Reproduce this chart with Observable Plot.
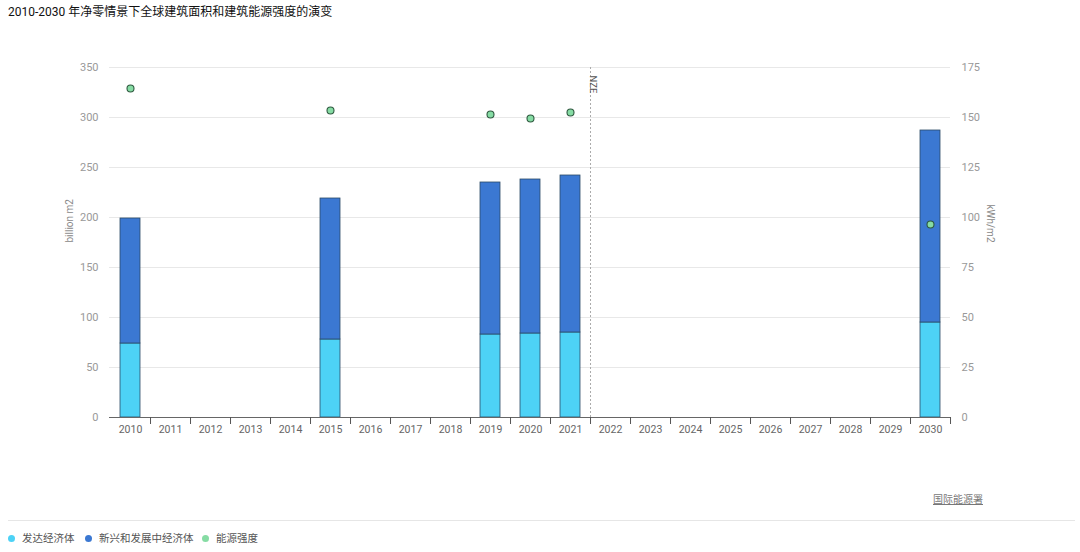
<!DOCTYPE html>
<html><head><meta charset="utf-8">
<script src="https://cdn.jsdelivr.net/npm/d3@7"></script>
<script src="https://cdn.jsdelivr.net/npm/@observablehq/plot@0.6"></script>
<style>
body{margin:0;background:#fff;font-family:Roboto,"Noto Sans CJK SC",sans-serif;width:1080px;height:552px;overflow:hidden;}
#title{height:24px;line-height:24px;padding-left:8px;font-size:12px;font-weight:400;color:#111;font-family:Roboto,"Noto Sans CJK SC",sans-serif;}
#source{height:20px;line-height:20px;text-align:right;padding-right:97px;font-size:10px;color:#777;}
#source span{text-decoration:underline;}
#sep{margin:10px 5px 0 8px;border-top:1px solid #e6e6e6;height:0;}
#legend{height:36px;line-height:36px;font-size:10.5px;color:#555;position:relative;}
.li{position:absolute;top:0;}
.dot{display:inline-block;width:7px;height:7px;border-radius:50%;vertical-align:middle;margin-right:7px;position:relative;top:-1px;}
</style></head>
<body>
<div id="title">2010-2030 年净零情景下全球建筑面积和建筑能源强度的演变</div>
<div id="chart"></div>
<div id="source"><span>国际能源署</span></div>
<div id="sep"></div>
<div id="legend"></div>
<script>
const years = ["2010","2011","2012","2013","2014","2015","2016","2017","2018","2019","2020","2021","2022","2023","2024","2025","2026","2027","2028","2029","2030"];
const dataYears = ["2010","2015","2019","2020","2021","2030"];
const developed = [74, 78, 83, 84, 85, 95];
const emerging = [125, 141, 152, 154, 157, 192];
const intensity = [164.5, 153.5, 151.5, 149.5, 152.5, 96.5];
const seriesNames = ["发达经济体", "新兴和发展中经济体", "能源强度"];
const seriesColors = ["#4dd2f6", "#3b78d2", "#86dca4"];
const leftTicks = [0, 50, 100, 150, 200, 250, 300, 350];

const rows = [];
dataYears.forEach((y, i) => {
  rows.push({year: y, series: seriesNames[0], value: developed[i]});
  rows.push({year: y, series: seriesNames[1], value: emerging[i]});
});
const pts = dataYears.map((y, i) => ({year: y, v: intensity[i]}));

const W = 1080, ML = 109, MR = 130;
const step = (W - ML - MR) / years.length;

const chart = Plot.plot({
  width: W, height: 466,
  marginLeft: ML, marginRight: MR, marginTop: 43, marginBottom: 73,
  style: {fontFamily: "Roboto, 'Noto Sans CJK SC', sans-serif", background: "#fff"},
  x: {domain: years, paddingInner: 0.5, paddingOuter: 0.25, label: null},
  y: {domain: [0, 350], label: null},
  color: {domain: seriesNames.slice(0, 2), range: seriesColors.slice(0, 2)},
  marks: [
    Plot.gridY(leftTicks, {stroke: "#e8e8e8", strokeOpacity: 1}),
    Plot.axisY(leftTicks, {anchor: "left", tickSize: 0, tickPadding: 11, fontSize: 11, color: "#999", label: null}),
    Plot.axisY(leftTicks, {anchor: "right", tickSize: 0, tickPadding: 11, fontSize: 11, color: "#999", label: null, tickFormat: d => d / 2}),
    Plot.text(["billion m2"], {frameAnchor: "left", dx: -40, rotate: -90, fontSize: 10, fill: "#888"}),
    Plot.text(["kWh/m2"], {frameAnchor: "right", dx: 40, rotate: 90, fontSize: 10, fill: "#888"}),
    Plot.barY(rows, {x: "year", y: "value", fill: "series", order: seriesNames.slice(0, 2), stroke: "#2c4a66", strokeWidth: 0.8}),
    Plot.ruleX(["2021"], {x: d => d, dx: step / 2, y1: 0, y2: 352, stroke: "#aaa", strokeDasharray: "2,2"}),
    Plot.text(["NZE"], {x: () => "2021", dx: step / 2 + 6, frameAnchor: "top", dy: 8, rotate: 90, textAnchor: "start", fontSize: 9.5, fill: "#555"}),
    Plot.ruleY([0], {stroke: "#666", strokeWidth: 1.2}),
    Plot.ruleX(years, {x: d => d, dx: step / 2, y1: 0, y2: -7, stroke: "#555"}),
    Plot.axisX(years, {tickSize: 0, tickPadding: 8, fontSize: 10.5, color: "#666", label: null}),
    Plot.dot(pts, {x: "year", y: d => d.v * 2, r: 3.5, fill: seriesColors[2], stroke: "#2f5a40", strokeWidth: 1.1})
  ]
});
document.getElementById("chart").appendChild(chart);

const legend = document.getElementById("legend");
const lx = [8, 85, 202];
seriesNames.forEach((n, i) => {
  const d = document.createElement("div");
  d.className = "li";
  d.style.left = lx[i] + "px";
  d.innerHTML = `<span class="dot" style="background:${seriesColors[i]}"></span>${n}`;
  legend.appendChild(d);
});
</script>
</body></html>
